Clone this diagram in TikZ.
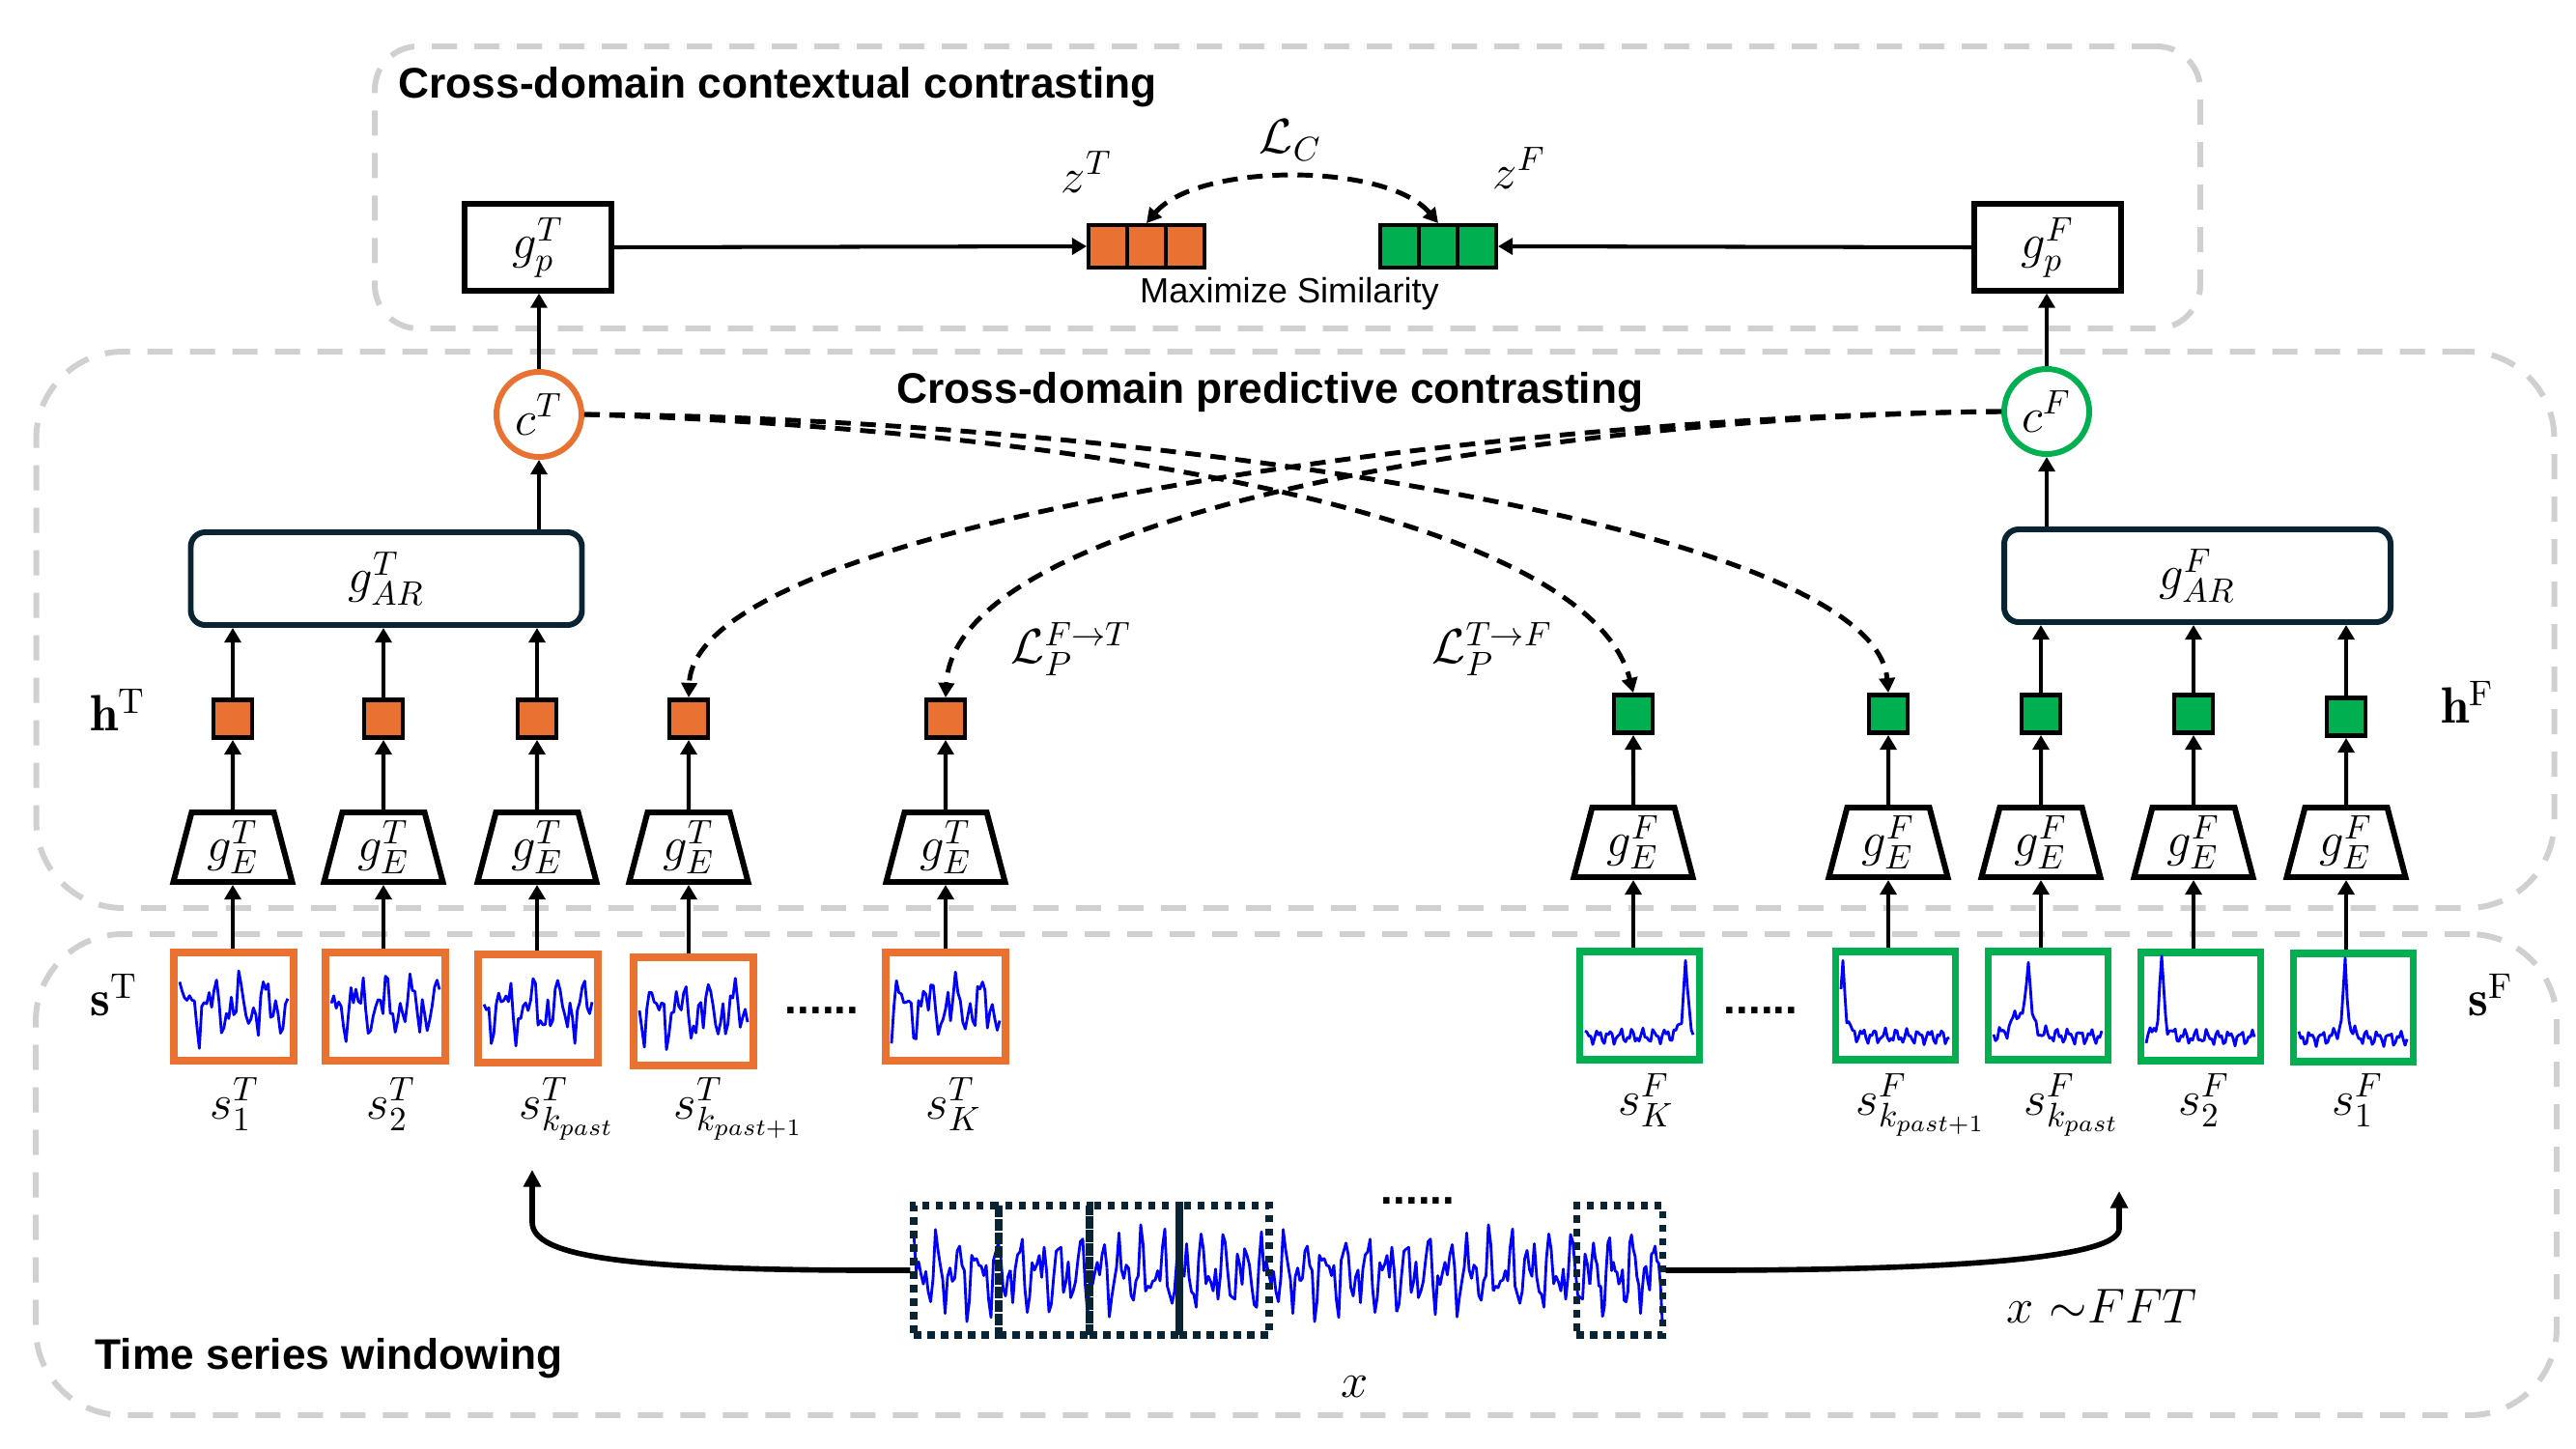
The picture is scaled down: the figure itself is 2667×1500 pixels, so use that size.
\documentclass[tikz,border=0pt]{standalone}
\usepackage{fontspec}
\newfontfamily\arialf{Liberation Sans}
\usetikzlibrary{arrows.meta,shapes.geometric,calc}
\definecolor{tor}{HTML}{E97132}
\definecolor{tgr}{HTML}{00B050}
\definecolor{nav}{HTML}{0B2434}
\definecolor{gbox}{HTML}{D0D0D0}
\definecolor{wblue}{HTML}{0000FF}
\newcommand\twave[4]{%
  \draw[wave] plot[domain=0:112, samples=45] ({#1-56+\x},{#2-46*(0.38*sin(13*\x+#3)+0.3*sin(29*\x+#4)+0.2*sin(47*\x+#3+#4)+0.12*sin(83*\x+2*#3))});}
\newcommand\fwave[6]{%
  \draw[wave] plot[domain=0:112, samples=57] ({#1-56+\x},{#2+32-9*(0.6*sin(31*\x+#5)+0.4*sin(67*\x+2*#5)) - #4/(1+((\x-#3)/2.5)^2) - #6/(1+((\x-#3+12)/6)^2)});}
\begin{document}
\begin{tikzpicture}[x=0.1mm,y=-0.1mm,
  graybox/.style={draw=gbox, line width=1.7pt, dash pattern=on 2.6mm off 1.8mm, inner sep=0},
  arr/.style={-{Triangle[length=4.3pt,width=4.8pt]}, line width=1.15pt},
  darr/.style={dash pattern=on 1.6mm off 1.0mm, line width=1.4pt, -{Triangle[length=4.3pt,width=4.6pt]}},
  bigarr/.style={line width=1.6pt, -{Triangle[length=5pt,width=5pt]}},
  gpbox/.style={draw, line width=1.5pt, minimum width=15.2mm, minimum height=9mm, inner sep=0, fill=white},
  cell/.style={draw, line width=1.1pt, minimum width=4mm, minimum height=4.4mm, inner sep=0},
  circ/.style={circle, draw, line width=1.7pt, minimum size=8.8mm, inner sep=0, fill=white},
  arbox/.style={draw=nav, line width=1.7pt, rounded corners=1.5mm, minimum height=9.6mm, inner sep=0},
  hsq/.style={draw, line width=1.4pt, minimum width=4mm, minimum height=3.9mm, inner sep=0},
  trap/.style={trapezium, trapezium angle=71, trapezium stretches body=true, draw, line width=1.7pt, minimum width=12.3mm, minimum height=7.2mm, inner sep=0, fill=white},
  sigbox/.style={draw, line width=2pt, minimum width=12.4mm, minimum height=11.2mm, inner sep=0},
  winbox/.style={draw=nav, line width=2pt, dash pattern=on 0.75mm off 0.65mm, minimum height=13.4mm, inner sep=0},
  wave/.style={draw=wblue, line width=0.8pt, line join=round},
  ttl/.style={font=\arialf\bfseries\fontsize{12.6}{15}\selectfont, inner sep=0, anchor=base west},
  mlbl/.style={font=\fontsize{14.5}{17}\selectfont, inner sep=0},
  blbl/.style={font=\fontsize{15}{18}\selectfont, inner sep=0},
  dots/.style={font=\arialf\bfseries\fontsize{13}{15}\selectfont, inner sep=0, anchor=base}
]
\useasboundingbox (0,0) rectangle (2667,1500);
% group frames
\node[graybox, rounded corners=4.5mm, minimum width=189mm, minimum height=29.2mm] (topframe) at (1333,194) {};
\node[graybox, rounded corners=9mm, minimum width=260.7mm, minimum height=57.6mm] (midframe) at (1341,652) {};
\node[graybox, rounded corners=9mm, minimum width=261mm, minimum height=49.8mm] (botframe) at (1342,1216) {};
\node[ttl] (t1) at (412,102) {Cross-domain contextual contrasting};
\node[ttl] (t2) at (928,417) {Cross-domain predictive contrasting};
\node[ttl] (t3) at (98,1417) {Time series windowing};

% projection heads
\node[gpbox, mlbl] (gpT) at (557,256) {$g_p^T$};
\node[gpbox, mlbl] (gpF) at (2120,256) {$g_p^F$};
\node[cell, fill=tor] (zT1) at (1147,255) {};
\node[cell, fill=tor] (zT2) at (1187,255) {};
\node[cell, fill=tor] (zT3) at (1227,255) {};
\node[cell, fill=tgr] (zF1) at (1449,255) {};
\node[cell, fill=tgr] (zF2) at (1489,255) {};
\node[cell, fill=tgr] (zF3) at (1529,255) {};
\node[mlbl] (zTl) at (1125,178) {$z^T$};
\node[mlbl] (zFl) at (1573,174) {$z^F$};
\node[mlbl] (LC) at (1336,145) {$\mathcal{L}_C$};
\node[font=\arialf\fontsize{10.3}{12}\selectfont, inner sep=0] (maxs) at (1335,304) {Maximize Similarity};
\draw[arr] (gpT.east) -- (zT1.west);
\draw[arr] (gpF.west) -- (zF3.east);
\draw[darr, {Triangle[length=4.3pt,width=4.6pt]}-{Triangle[length=4.3pt,width=4.6pt]}] (zT2.north) .. controls (1240,168) and (1436,168) .. (zF2.north);

% context
\node[circ, draw=tor, mlbl] (cT) at (558,429) {$c^T$};
\node[circ, draw=tgr, mlbl] (cF) at (2119,426) {$c^F$};
\node[arbox, minimum width=40.5mm, mlbl] (gART) at (400,599) {$g_{AR}^T$};
\node[arbox, minimum width=40mm, mlbl] (gARF) at (2275,596) {$g_{AR}^F$};
\draw[arr] (cT.north) -- (cT.north |- gpT.south);
\draw[arr] (cF.north) -- (cF.north |- gpF.south);
\draw[arr] (cT.south |- gART.north) -- (cT.south);
\draw[arr] (cF.south |- gARF.north) -- (cF.south);

% encoders and representations
\foreach \i/\xx in {1/241,2/397,3/556,4/713,5/979}{
  \node[hsq, fill=tor] (hT\i) at (\xx,744) {};
  \node[trap, mlbl] (tT\i) at (\xx,877) {$g_E^T$};
  \draw[arr] (tT\i.north) -- (hT\i.south);
}
\foreach \i/\xx/\yy in {1/1691/739,2/1955/739,3/2113/739,4/2271/739,5/2429/742}{
  \node[hsq, fill=tgr] (hF\i) at (\xx,\yy) {};
  \node[trap, mlbl] (tF\i) at (\xx,872) {$g_E^F$};
  \draw[arr] (tF\i.north) -- (hF\i.south);
}
\foreach \i in {1,2,3}{
  \draw[arr] (hT\i.north) -- (hT\i.north |- gART.south);
}
\foreach \i in {3,4,5}{
  \draw[arr] (hF\i.north) -- (hF\i.north |- gARF.south);
}
\node[blbl] (hTl) at (122,735) {$\mathbf{h}^{\mathrm{T}}$};
\node[blbl] (hFl) at (2555,727) {$\mathbf{h}^{\mathrm{F}}$};

% cross-domain prediction
\draw[darr] (cT.east) .. controls (1050,442) and (1640,520) .. (hF1.north);
\draw[darr] (cT.east) .. controls (1150,432) and (1940,540) .. (hF2.north);
\draw[darr] (cF.west) .. controls (1550,430) and (720,540) .. (hT4.north);
\draw[darr] (cF.west) .. controls (1650,430) and (990,520) .. (hT5.north);
\node[mlbl] (LPFT) at (1109,672) {$\mathcal{L}_P^{F\rightarrow T}$};
\node[mlbl] (LPTF) at (1545,672) {$\mathcal{L}_P^{T\rightarrow F}$};

% segment boxes
\foreach \i/\xx/\yy in {1/242/1042,2/399/1042,3/557/1044,4/718/1047,5/979/1042}{
  \node[sigbox, draw=tor] (sT\i) at (\xx,\yy) {};
  \draw[arr] (sT\i.north -| tT\i.south) -- (tT\i.south);
}
\foreach \i/\xx/\yy in {1/1697/1041,2/1962/1041,3/2120/1041,4/2278/1042,5/2436/1043}{
  \node[sigbox, draw=tgr] (sF\i) at (\xx,\yy) {};
  \draw[arr] (sF\i.north -| tF\i.south) -- (tF\i.south);
}
\twave{242}{1042}{10}{60}
\twave{399}{1042}{95}{200}
\twave{557}{1044}{170}{20}
\twave{718}{1047}{250}{130}
\twave{979}{1042}{320}{280}
\fwave{1697}{1041}{104}{78}{30}{0}
\fwave{1962}{1041}{2}{78}{120}{0}
\fwave{2120}{1041}{36}{80}{210}{22}
\fwave{2278}{1042}{16}{82}{300}{0}
\fwave{2436}{1043}{48}{76}{75}{0}
\node[dots] (dT) at (851,1049) {......};
\node[dots] (dF) at (1823,1049) {......};
\node[blbl] (sTl) at (118,1030) {$\mathbf{s}^{\mathrm{T}}$};
\node[blbl] (sFl) at (2579,1030) {$\mathbf{s}^{\mathrm{F}}$};
\node[mlbl, anchor=base west] (l1) at (217,1158) {$s_1^T$};
\node[mlbl, anchor=base west] (l2) at (379,1158) {$s_2^T$};
\node[mlbl, anchor=base west] (l3) at (537,1158) {$s_{k_{past}}^T$};
\node[mlbl, anchor=base west] (l4) at (697,1158) {$s_{k_{past+1}}^T$};
\node[mlbl, anchor=base west] (l5) at (958,1158) {$s_K^T$};
\node[mlbl, anchor=base west] (r1) at (1675,1154) {$s_K^F$};
\node[mlbl, anchor=base west] (r2) at (1921,1154) {$s_{k_{past+1}}^F$};
\node[mlbl, anchor=base west] (r3) at (2095,1154) {$s_{k_{past}}^F$};
\node[mlbl, anchor=base west] (r4) at (2255,1154) {$s_2^F$};
\node[mlbl, anchor=base west] (r5) at (2414,1154) {$s_1^F$};

% raw time series
\foreach \k/\len in {0/100,1/100,2/100,3/100,4/100,5/100,6/100,7/75}{
  \draw[wave] plot[domain=0:\len, samples=41] ({946+100*\k+\x},{1318-58*(0.38*sin(17*\x+40+260*\k)+0.3*sin(29*\x+110+20*\k)+0.2*sin(47*\x+150+20*\k)+0.12*sin(83*\x+70+20*\k))});
}
\node[winbox, minimum width=8.8mm] (W1) at (990,1315) {};
\node[winbox, minimum width=9.4mm] (W2) at (1081,1315) {};
\node[winbox, minimum width=9.3mm] (W3) at (1174.5,1315) {};
\node[winbox, minimum width=9.3mm] (W4) at (1267.5,1315) {};
\node[winbox, minimum width=8.9mm] (W5) at (1676.5,1315) {};
\node[dots] (dX) at (1468,1246) {......};
\node[mlbl] (xl) at (1403,1436) {$x$};
\node[mlbl] (fft) at (2176,1352) {$x\ {\sim}FFT$};
\coordinate (tipL) at (551,1211);
\coordinate (tipR) at (2194,1233);
\draw[bigarr] (W1.west) .. controls (640,1316) and (551,1300) .. (551,1265) -- (tipL);
\draw[bigarr] (W5.east) .. controls (2050,1316) and (2194,1300) .. (2194,1272) -- (tipR);
\end{tikzpicture}
\end{document}
